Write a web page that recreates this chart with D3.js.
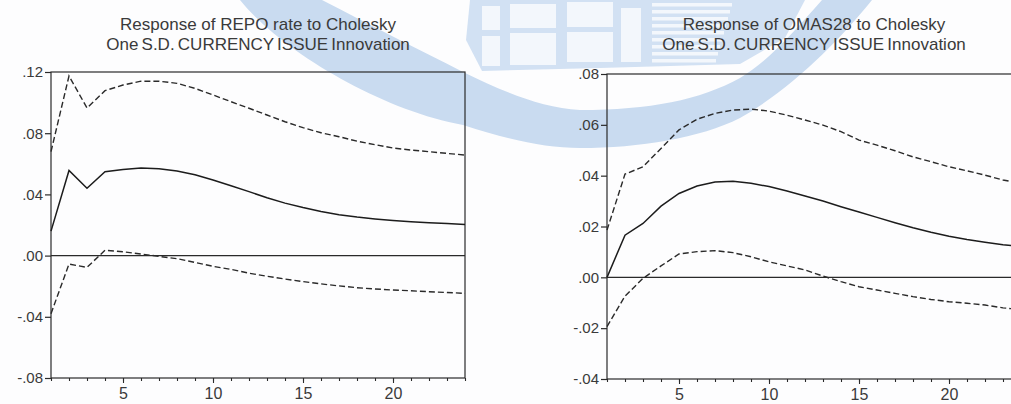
<!DOCTYPE html>
<html>
<head>
<meta charset="utf-8">
<script src="https://cdn.jsdelivr.net/npm/d3@7/dist/d3.min.js"></script>
<style>
  body { margin: 0; background: #fff; }
  svg { display: block; font-family: "Liberation Sans", Arial, sans-serif; }
</style>
</head>
<body>
<div id="chart"></div>
<script>
// periods after the shock
var periods = d3.range(1, 25);

// Response of REPO rate (left panel)
var repoResp  = [0.016, 0.0556, 0.044, 0.0548, 0.0563, 0.0572, 0.0568, 0.0553, 0.0528, 0.0494, 0.0456, 0.0418,
                 0.0378, 0.0343, 0.0314, 0.0288, 0.0267, 0.0252, 0.0240, 0.0230, 0.0222, 0.0215, 0.0209, 0.0203];
var repoUpper = [0.068, 0.1174, 0.0965, 0.1078, 0.1115, 0.114, 0.114, 0.1126, 0.1093, 0.105, 0.1006, 0.0963,
                 0.0919, 0.0875, 0.0836, 0.0803, 0.0777, 0.0748, 0.0725, 0.0703, 0.0690, 0.0679, 0.0668, 0.0657];
var repoLower = [-0.038, -0.0055, -0.0077, 0.0035, 0.0025, 0.001, -0.0005, -0.002, -0.0045, -0.007, -0.009, -0.0115,
                 -0.0135, -0.0153, -0.017, -0.0185, -0.0198, -0.021, -0.0218, -0.0225, -0.023, -0.0236, -0.0241, -0.0247];

// Response of OMAS28 (right panel)
var omasResp  = [0.0, 0.0166, 0.0212, 0.028, 0.033, 0.0359, 0.0375, 0.0378, 0.037, 0.0357, 0.034, 0.032,
                 0.030, 0.0278, 0.0257, 0.0236, 0.0215, 0.0195, 0.0177, 0.0162, 0.0149, 0.0138, 0.0128, 0.0122];
var omasUpper = [0.0186, 0.0406, 0.0435, 0.0507, 0.058, 0.0622, 0.0645, 0.0658, 0.0662, 0.0654, 0.0638, 0.0619,
                 0.0599, 0.0573, 0.054, 0.052, 0.0498, 0.0474, 0.0455, 0.0435, 0.0419, 0.0402, 0.0383, 0.037];
var omasLower = [-0.0194, -0.0074, -0.0004, 0.0045, 0.0092, 0.0101, 0.0105, 0.0097, 0.0081, 0.0061, 0.0045, 0.0029,
                 0.0005, -0.0017, -0.0037, -0.005, -0.0063, -0.0076, -0.0087, -0.0096, -0.0102, -0.0109, -0.012, -0.0127];

var repoTicks = [-0.08, -0.04, 0, 0.04, 0.08, 0.12];
var omasTicks = [-0.04, -0.02, 0, 0.02, 0.04, 0.06, 0.08];
var labelTicks = [5, 10, 15, 20];

var titles = {
  repo: ["Response of REPO rate to Cholesky", "One S.D. CURRENCY ISSUE Innovation"],
  omas: ["Response of OMAS28 to Cholesky", "One S.D. CURRENCY ISSUE Innovation"]
};

var width = 1011,
  height = 404;

var ink = "#2a2a2a",
  textInk = "#3a3a3a",
  markBlue = "#c9dbf0";

var svg = d3.select("#chart").append("svg")
  .attr("width", width)
  .attr("height", height);

svg.append("rect").attr("width", width).attr("height", height).attr("fill", "#fdfdfe");

drawWatermark();

drawPanel({
  left: 51, right: 465, top: 72, bottom: 378,
  domain: [-0.08, 0.12], ticks: repoTicks, title: titles.repo,
  resp: repoResp, upper: repoUpper, lower: repoLower
});

drawPanel({
  left: 607, right: 1021, top: 74, bottom: 379,
  domain: [-0.04, 0.08], ticks: omasTicks, title: titles.omas,
  resp: omasResp, upper: omasUpper, lower: omasLower
});


// faint bank logo that shows through the scanned page
function drawWatermark() {
  var g = svg.append("g");

  // crescent swoosh
  g.append("path")
    .attr("fill", markBlue)
    .attr("d", "M240,0 C280,50 380,110 463,125 C510,140 545,148 580,148 " +
               "C640,148 700,138 740,118 C790,90 840,40 872,0 L822,0 " +
               "C795,30 770,60 740,78 C700,100 650,110 580,110 " +
               "C540,108 500,90 463,72 C420,50 370,25 322,0 Z");

  // building
  g.append("path")
    .attr("fill", "#d2e1f3")
    .attr("d", "M470,0 L805,0 L785,38 L740,64 L600,68 L482,71 L466,40 Z");

  var white = g.append("g").attr("fill", "#f3f7fc");
  var panes = [[482, 6, 18, 24], [482, 36, 18, 30], [510, 4, 46, 24], [510, 33, 46, 32],
               [567, 2, 46, 25], [567, 32, 46, 30], [621, 8, 20, 54]];
  panes.forEach(function(s) {
    white.append("rect").attr("x", s[0]).attr("y", s[1]).attr("width", s[2]).attr("height", s[3]);
  });
  d3.range(0, 9).forEach(function(i) {
    white.append("rect").attr("x", 652).attr("y", 3 + i * 7).attr("width", 80 - i * 2).attr("height", 3.5);
  });
}


function drawPanel(p) {
  var x = d3.scaleLinear().domain([1, 24]).range([p.left, p.right]);
  var y = d3.scaleLinear().domain(p.domain).range([p.bottom, p.top]);

  var fmt = function(v) {
    return d3.format(".2f")(v).replace("\u2212", "-").replace("0.", ".");
  };

  var g = svg.append("g");

  // titles
  var cx = (p.left + p.right) / 2;
  g.append("text").attr("x", cx).attr("y", 29.5).attr("text-anchor", "middle")
    .attr("font-size", 17).attr("fill", textInk).text(p.title[0]);
  g.append("text").attr("x", cx).attr("y", 49.5).attr("text-anchor", "middle")
    .attr("font-size", 17).attr("fill", textInk).attr("word-spacing", -1.5).text(p.title[1]);

  // y axis
  var yAxis = g.append("g")
    .attr("transform", "translate(" + p.left + ",0)")
    .call(d3.axisLeft(y).tickValues(p.ticks).tickSize(6).tickPadding(2).tickFormat(fmt));
  yAxis.select(".domain").remove();
  yAxis.selectAll("line").attr("stroke", ink).attr("stroke-width", 1.2);
  yAxis.selectAll("text").attr("font-size", 15).attr("fill", textInk)
    .attr("font-family", "\"Liberation Sans\", Arial, sans-serif");

  // x axis: minor ticks every period, labels every 5
  var xMinor = g.append("g")
    .attr("transform", "translate(0," + p.bottom + ")")
    .call(d3.axisBottom(x).tickValues(periods).tickSize(3).tickFormat(""));
  xMinor.select(".domain").remove();
  xMinor.selectAll("line").attr("stroke", ink).attr("stroke-width", 1.1);

  var xMajor = g.append("g")
    .attr("transform", "translate(0," + p.bottom + ")")
    .call(d3.axisBottom(x).tickValues(labelTicks).tickSize(5).tickPadding(5).tickFormat(d3.format("d")));
  xMajor.select(".domain").remove();
  xMajor.selectAll("line").attr("stroke", ink).attr("stroke-width", 1.1);
  xMajor.selectAll("text").attr("font-size", 16).attr("fill", textInk)
    .attr("font-family", "\"Liberation Sans\", Arial, sans-serif");

  // frame and zero line
  g.append("rect")
    .attr("x", p.left).attr("y", p.top)
    .attr("width", p.right - p.left).attr("height", p.bottom - p.top)
    .attr("fill", "none").attr("stroke", ink).attr("stroke-width", 1.2);
  g.append("line")
    .attr("x1", p.left).attr("x2", p.right)
    .attr("y1", y(0)).attr("y2", y(0))
    .attr("stroke", ink).attr("stroke-width", 1.3);

  // response and +/- 2 S.E. bands
  function lineOf(values) {
    return d3.line()
      .x(function(d, i) { return x(periods[i]); })
      .y(function(d) { return y(d); })(values);
  }

  g.append("path").attr("d", lineOf(p.upper))
    .attr("fill", "none").attr("stroke", ink).attr("stroke-width", 1.4).attr("stroke-dasharray", "6,3");
  g.append("path").attr("d", lineOf(p.lower))
    .attr("fill", "none").attr("stroke", ink).attr("stroke-width", 1.4).attr("stroke-dasharray", "6,3");
  g.append("path").attr("d", lineOf(p.resp))
    .attr("fill", "none").attr("stroke", "#1c1c1c").attr("stroke-width", 1.5);
}
</script>
</body>
</html>
